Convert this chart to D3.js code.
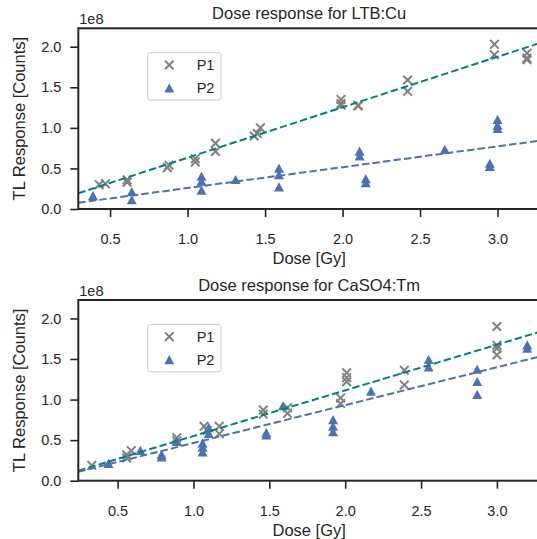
<!DOCTYPE html>
<html><head><meta charset="utf-8">
<script src="https://cdn.jsdelivr.net/npm/d3@7"></script>
<style>body{margin:0;background:#fff}svg{display:block}text{font-family:"Liberation Sans",Arial,sans-serif;fill:#262626}</style>
</head><body><div id="chart"></div>
<script>
// ---- data (values in units of 1e8 counts) ----
const xTicks = [0.5, 1.0, 1.5, 2.0, 2.5, 3.0];
const yTicks = [0.0, 0.5, 1.0, 1.5, 2.0];
const seriesNames = ["P1", "P2"];
const titles = ["Dose response for LTB:Cu", "Dose response for CaSO4:Tm"];

// LTB:Cu
const ltbP1Dose = [0.43,0.47,0.61,0.61,0.87,0.88,1.05,1.05,1.18,1.18,1.43,1.45,1.47,1.99,1.99,1.99,2.10,2.10,2.42,2.42,2.98,2.98,3.19,3.19,3.19];
const ltbP1Resp = [0.30,0.31,0.36,0.33,0.51,0.54,0.62,0.58,0.81,0.71,0.90,0.93,1.00,1.35,1.30,1.28,1.28,1.27,1.59,1.45,2.03,1.90,1.92,1.86,1.84];
const ltbP2Dose = [0.39,0.64,0.64,1.09,1.09,1.09,1.31,1.59,1.59,1.59,2.11,2.11,2.15,2.15,2.66,2.95,2.95,3.00,3.00,3.00];
const ltbP2Resp = [0.16,0.21,0.11,0.40,0.34,0.23,0.36,0.50,0.42,0.27,0.71,0.65,0.37,0.32,0.73,0.56,0.52,1.10,1.03,0.99];
const ltbFit = {P1: [0.622, 0.010], P2: [0.2567, 0.002]}; // slope, intercept

// CaSO4:Tm
const casP1Dose = [0.33,0.56,0.59,0.56,0.89,0.89,1.07,1.09,1.17,1.17,1.46,1.46,1.62,1.62,2.01,2.01,2.01,1.97,1.97,2.39,2.39,3.00,3.00,3.00,3.00];
const casP1Resp = [0.19,0.32,0.37,0.28,0.53,0.49,0.67,0.62,0.67,0.58,0.87,0.82,0.90,0.83,1.33,1.27,1.22,1.02,0.95,1.36,1.18,1.90,1.67,1.63,1.55];
const casP2Dose = [0.44,0.65,0.79,0.79,0.89,1.06,1.06,1.06,1.10,1.10,1.48,1.48,1.59,1.92,1.92,1.92,2.17,2.55,2.55,2.87,2.87,2.87,3.20,3.20];
const casP2Resp = [0.21,0.37,0.32,0.29,0.48,0.46,0.41,0.35,0.65,0.58,0.59,0.56,0.92,0.75,0.67,0.60,1.10,1.49,1.40,1.37,1.22,1.06,1.67,1.63];
const casFit = {P1: [0.563, -0.0127], P2: [0.467, -0.0025]};

const panels = [
  {title: titles[0], p1x: ltbP1Dose, p1y: ltbP1Resp, p2x: ltbP2Dose, p2y: ltbP2Resp, fit: ltbFit,
   top: 28.3, bottom: 209, xDomain: [0.295, 3.274]},
  {title: titles[1], p1x: casP1Dose, p1y: casP1Resp, p2x: casP2Dose, p2y: casP2Resp, fit: casFit,
   top: 300, bottom: 480.7, xDomain: [0.241, 3.284]}
];

const W = 537, H = 539, left = 78.3, right = 540;
const ink = "#262626", grey = "#808080", blue = "#4c72b0", teal = "#008080";
const crossPath = "M-4.3,-4.3L4.3,4.3M-4.3,4.3L4.3,-4.3";
const triPath = "M0,-4.9L5,4.3L-5,4.3Z";
const svg = d3.select("#chart").append("svg").attr("width", W).attr("height", H);

panels.forEach((p, i) => {
  const x = d3.scaleLinear().domain(p.xDomain).range([left, right]);
  const y = d3.scaleLinear().domain([0, 2.227]).range([p.bottom, p.top]);
  const g = svg.append("g");
  const cid = "clip" + i;
  svg.append("clipPath").attr("id", cid).append("rect")
    .attr("x", left).attr("y", p.top).attr("width", right - left).attr("height", p.bottom - p.top);

  const plot = g.append("g").attr("clip-path", `url(#${cid})`);
  // P1 crosses
  plot.selectAll(".c").data(d3.zip(p.p1x, p.p1y)).join("path")
    .attr("transform", d => `translate(${x(d[0])},${y(d[1])})`)
    .attr("d", crossPath).attr("stroke", grey).attr("stroke-width", 2).attr("fill", "none");
  // P2 triangles
  plot.selectAll(".t").data(d3.zip(p.p2x, p.p2y)).join("path")
    .attr("transform", d => `translate(${x(d[0])},${y(d[1])})`)
    .attr("d", triPath).attr("fill", blue);
  // fit lines
  const line = d3.line().x(d => x(d[0])).y(d => y(d[1]));
  [["P1", teal], ["P2", blue]].forEach(([k, col]) => {
    const [m, b] = p.fit[k];
    const pts = p.xDomain.map(v => [v, m * v + b]);
    plot.append("path").attr("d", line(pts)).attr("fill", "none")
      .attr("stroke", col).attr("stroke-width", 2).attr("stroke-dasharray", "7.4,3.2");
  });

  // axes
  const xa = g.append("g").attr("transform", `translate(0,${p.bottom})`)
    .call(d3.axisBottom(x).tickValues(xTicks).tickFormat(d3.format(".1f")).tickSize(8).tickPadding(17));
  const ya = g.append("g").attr("transform", `translate(${left},0)`)
    .call(d3.axisLeft(y).tickValues(yTicks).tickFormat(d3.format(".1f")).tickSize(8).tickPadding(9));
  [xa, ya].forEach(a => {
    a.select(".domain").remove();
    a.selectAll("line").attr("stroke", ink).attr("stroke-width", 1.6);
    a.selectAll("text").attr("font-size", 14.5).attr("fill", ink).style("font-family", "Liberation Sans, Arial, sans-serif");
  });
  // spines
  g.append("rect").attr("x", left).attr("y", p.top).attr("width", right - left).attr("height", p.bottom - p.top)
    .attr("fill", "none").attr("stroke", ink).attr("stroke-width", 2);

  // texts
  g.append("text").attr("x", (left + right) / 2).attr("y", p.top - 9).attr("text-anchor", "middle")
    .attr("font-size", 16.5).text(p.title);
  g.append("text").attr("x", left + 1).attr("y", p.top - 4).attr("font-size", 14.5).text("1e8");
  g.append("text").attr("x", (left + right) / 2).attr("y", p.bottom + 55).attr("text-anchor", "middle")
    .attr("font-size", 16.5).text("Dose [Gy]");
  g.append("text").attr("transform", `translate(25,${(p.top + p.bottom) / 2}) rotate(-90)`)
    .attr("text-anchor", "middle").attr("font-size", 16.5).text("TL Response [Counts]");

  // legend
  const lg = g.append("g").attr("transform", `translate(${left + 69.4},${p.top + 24.4})`);
  lg.append("rect").attr("width", 73.3).attr("height", 47.4).attr("rx", 3)
    .attr("fill", "#fff").attr("fill-opacity", 0.8).attr("stroke", "#cccccc").attr("stroke-width", 1);
  lg.append("path").attr("transform", "translate(21.6,12.3)").attr("d", crossPath)
    .attr("stroke", grey).attr("stroke-width", 2).attr("fill", "none");
  lg.append("path").attr("transform", "translate(21.6,35.6)").attr("d", triPath).attr("fill", blue);
  lg.append("text").attr("x", 49).attr("y", 12.3).attr("dy", "0.35em").attr("font-size", 14.5).text(seriesNames[0]);
  lg.append("text").attr("x", 49).attr("y", 35.6).attr("dy", "0.35em").attr("font-size", 14.5).text(seriesNames[1]);
});
</script></body></html>
